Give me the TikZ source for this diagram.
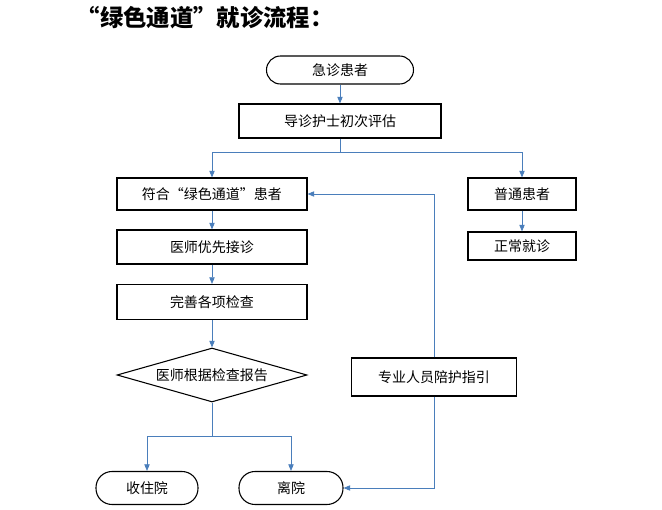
\documentclass[tikz,border=0pt]{standalone}
\usepackage{fontspec}
\newfontfamily\cjk{Noto Sans CJK SC}
\usetikzlibrary{shapes.geometric,arrows.meta}
\definecolor{lnblue}{HTML}{4A7EBB}
\begin{document}
\begin{tikzpicture}[x=0.75pt,y=-0.75pt,
  box/.style={draw=black,thick,minimum height=#1*0.75pt,inner sep=0pt,font=\cjk\fontsize{10.5}{12}\selectfont},
  conn/.style={draw=lnblue,semithick},
  arr/.style={conn,-{Triangle[length=5pt,width=4pt]}}]
\useasboundingbox (0,0) rectangle (662,510);
\node[font=\cjk\bfseries\fontsize{17.5}{20}\selectfont,anchor=west] (title) at (72,18) {“绿色通道”就诊流程：};
\node[box=28,rounded corners=14*0.75pt,minimum width=147*0.75pt] (a) at (340,70) {急诊患者};
\node[box=34,minimum width=202*0.75pt] (b) at (340,121) {导诊护士初次评估};
\node[box=32,minimum width=190*0.75pt] (c) at (212,194) {符合“绿色通道”患者};
\node[box=32,minimum width=108*0.75pt] (d) at (522,194) {普通患者};
\node[box=28,minimum width=108*0.75pt] (e) at (522,246) {正常就诊};
\node[box=34,minimum width=190*0.75pt] (f) at (212,247) {医师优先接诊};
\node[box=35,minimum width=190*0.75pt] (g) at (212,302) {完善各项检查};
\node[draw,thick,diamond,aspect=3.5,minimum width=190*0.75pt,minimum height=54*0.75pt,inner sep=0pt,font=\cjk\fontsize{10.5}{12}\selectfont] (h) at (212,375) {医师根据检查报告};
\node[box=38,minimum width=165*0.75pt] (k) at (434,377) {专业人员陪护指引};
\node[box=33,rounded corners=16*0.75pt,minimum width=102*0.75pt] (i) at (147,488) {收住院};
\node[box=33,rounded corners=16*0.75pt,minimum width=104*0.75pt] (j) at (291,488) {离院};
\draw[arr] (a) -- (b);
\draw[conn] (b.south) -- (340,152) coordinate (s1);
\draw[arr] (s1) -| (c.north);
\draw[arr] (s1) -| (d.north);
\draw[arr] (d) -- (e);
\draw[arr] (c) -- (f);
\draw[arr] (f) -- (g);
\draw[arr] (g) -- (h);
\draw[conn] (h.south) -- (212,436) coordinate (s2);
\draw[arr] (s2) -| (i.north);
\draw[arr] (s2) -| (j.north);
\draw[arr] (k.north) |- (c.east);
\draw[arr] (k.south) |- (j.east);
\end{tikzpicture}
\end{document}
